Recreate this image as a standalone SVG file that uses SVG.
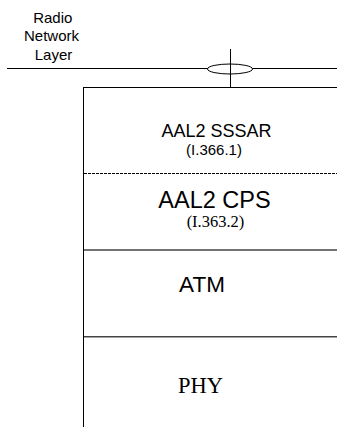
<svg xmlns="http://www.w3.org/2000/svg" width="337" height="428" viewBox="0 0 337 428">
<style>
.ln{stroke:#000;stroke-width:1;fill:none}
.sep{stroke:#444;stroke-width:1.6;fill:none}
.sans{font-family:"Liberation Sans",Arial,sans-serif;fill:#000;text-anchor:middle}
.serif{font-family:"Liberation Serif","Times New Roman",serif;fill:#000;text-anchor:middle}
</style>
<rect width="337" height="428" fill="#fff"/>
<g id="radio-network-layer">
<text class="sans" font-size="15" x="52.8" y="22.5">Radio</text>
<text class="sans" font-size="15" x="51.5" y="41">Network</text>
<text class="sans" font-size="15" x="53.5" y="59.5">Layer</text>
</g>
<g id="connectors">
<line class="ln" x1="7" y1="68.5" x2="337" y2="68.5"/>
<ellipse cx="230" cy="69" rx="22.5" ry="5" fill="#fff" stroke="#000" stroke-width="1"/>
<line class="ln" x1="230.5" y1="49" x2="230.5" y2="88"/>
</g>
<g id="stack">
<line class="ln" x1="83.5" y1="87.5" x2="83.5" y2="427"/>
<line class="ln" x1="83" y1="87.5" x2="337" y2="87.5"/>
<line class="ln" x1="84" y1="173.5" x2="337" y2="173.5" stroke-dasharray="3,1"/>
<line class="sep" x1="84" y1="250" x2="337" y2="250"/>
<line class="sep" x1="84" y1="336.7" x2="337" y2="336.7"/>
</g>
<g id="aal2-sssar">
<text class="sans" font-size="18" x="216.5" y="136.5">AAL2 SSSAR</text>
<text class="sans" font-size="15" x="214" y="154.5">(I.366.1)</text>
</g>
<g id="aal2-cps">
<text class="sans" font-size="23.5" x="214.5" y="208">AAL2 CPS</text>
<text class="serif" font-size="16.5" x="215.5" y="226.5">(I.363.2)</text>
</g>
<g id="atm">
<text class="sans" font-size="22.5" x="202" y="292">ATM</text>
</g>
<g id="phy">
<text class="serif" font-size="22.5" x="200.5" y="393.3">PHY</text>
</g>
</svg>
